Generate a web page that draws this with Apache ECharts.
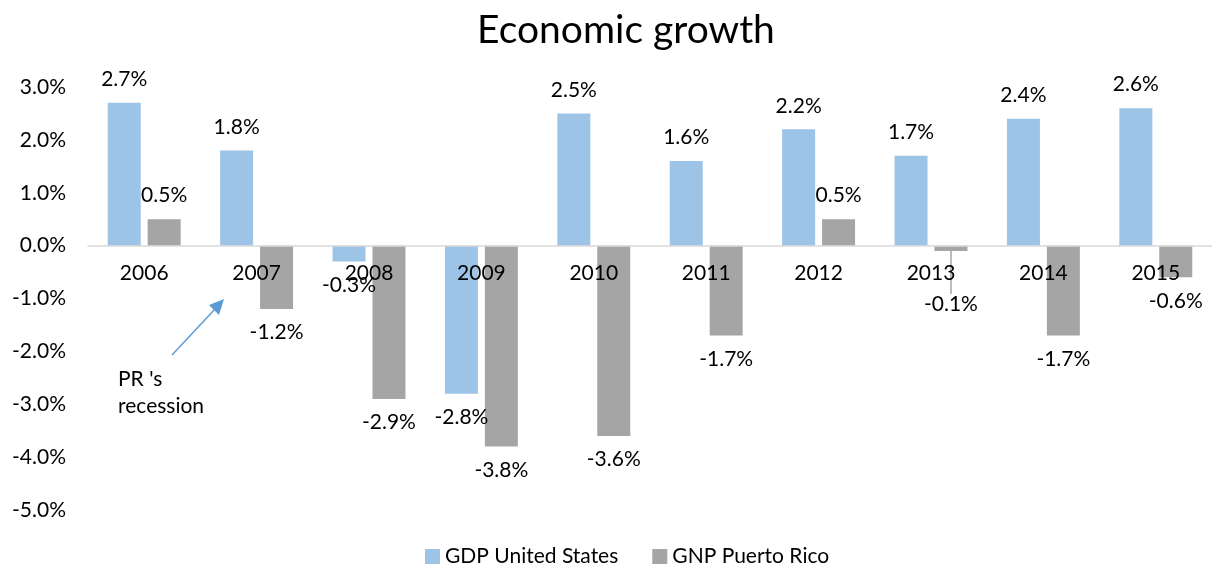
<!DOCTYPE html>
<html>
<head>
<meta charset="utf-8">
<script src="https://cdn.jsdelivr.net/npm/echarts@6/dist/echarts.min.js"></script>
<style>
  html, body { margin: 0; padding: 0; background: #fff; }
  #chart { width: 1212px; height: 569px; }
</style>
</head>
<body>
<div id="chart"></div>
<script>
const years = ['2006', '2007', '2008', '2009', '2010', '2011', '2012', '2013', '2014', '2015'];
const gdpUS = [2.7, 1.8, -0.3, -2.8, 2.5, 1.6, 2.2, 1.7, 2.4, 2.6];
const gnpPR = [0.5, -1.2, -2.9, -3.8, -3.6, -1.7, 0.5, -0.1, -1.7, -0.6];
const yTicks = { min: -5, max: 3, interval: 1 };

const FONT = 'Lato, "Open Sans", sans-serif';
const FS = 21;

const GRID_TOP = 87;
const GRID_BOTTOM = 59;
const GRID_H = 569 - GRID_TOP - GRID_BOTTOM;
// x 轴放在 0 线上（标签也跟着）
const zeroOffset = GRID_H * (0 - yTicks.min) / (yTicks.max - yTicks.min);

// 正负值标签放在柱子的外侧
function toItems(arr, leaderIdx) {
  return arr.map((v, i) => ({
    value: v,
    label: { position: v < 0 ? 'bottom' : 'top' },
    labelLine: { show: i === leaderIdx }
  }));
}

const chart = echarts.init(document.getElementById('chart'));
const option = {
  animation: false,
  title: {
    text: 'Economic growth',
    left: 621,
    textAlign: 'center',
    top: 6,
    textStyle: { fontFamily: FONT, fontSize: 39, fontWeight: 'normal', color: '#000' }
  },
  legend: {
    top: 541,
    left: 420,
    itemWidth: 15,
    itemHeight: 15,
    itemGap: 34,
    icon: 'rect',
    textStyle: { fontFamily: FONT, fontSize: FS, color: '#000' }
  },
  grid: {
    left: 88,
    width: 1134,
    top: GRID_TOP,
    bottom: GRID_BOTTOM
  },
  xAxis: {
    type: 'category',
    data: years,
    z: 5,
    offset: -zeroOffset,
    axisLine: { onZero: false, lineStyle: { color: '#d9d9d9', width: 1.5 } },
    axisTick: { show: false },
    axisLabel: { margin: 17, fontFamily: FONT, fontSize: FS, color: '#000' }
  },
  yAxis: {
    type: 'value',
    min: yTicks.min,
    max: yTicks.max,
    interval: yTicks.interval,
    splitLine: { show: false },
    axisLine: { show: false },
    axisTick: { show: false },
    axisLabel: {
      margin: 22,
      fontFamily: FONT,
      fontSize: FS,
      color: '#000',
      formatter: v => v.toFixed(1) + '%'
    }
  },
  series: [
    {
      name: 'GDP United States',
      type: 'bar',
      data: toItems(gdpUS, -1),
      barWidth: 33,
      barGap: '21%',
      itemStyle: { color: '#9dc3e6' },
      label: {
        show: true,
        distance: 13,
        fontFamily: FONT,
        fontSize: FS,
        color: '#000',
        formatter: p => p.value.toFixed(1) + '%'
      }
    },
    {
      name: 'GNP Puerto Rico',
      type: 'bar',
      data: toItems(gnpPR, 7),
      barWidth: 33,
      itemStyle: { color: '#a5a5a5' },
      label: {
        show: true,
        distance: 13,
        fontFamily: FONT,
        fontSize: FS,
        color: '#000',
        formatter: p => p.value.toFixed(1) + '%'
      },
      labelLine: { show: false, lineStyle: { color: '#a5a5a5', width: 1.5 } },
      labelLayout: p => (p.dataIndex === 7 ? { dy: 30 } : {})
    }
  ],
  graphic: [
    // 标注箭头
    {
      type: 'line',
      shape: { x1: 172, y1: 355, x2: 216, y2: 308 },
      style: { stroke: '#5b9bd5', lineWidth: 1.5 }
    },
    {
      type: 'polygon',
      shape: { points: [[224, 299], [209, 305], [219, 315]] },
      style: { fill: '#5b9bd5' }
    },
    {
      type: 'text',
      left: 118,
      top: 366,
      style: {
        text: "PR 's\nrecession",
        fontFamily: FONT,
        fontSize: FS,
        lineHeight: 27,
        fill: '#000'
      }
    }
  ]
};
chart.setOption(option);
</script>
</body>
</html>
